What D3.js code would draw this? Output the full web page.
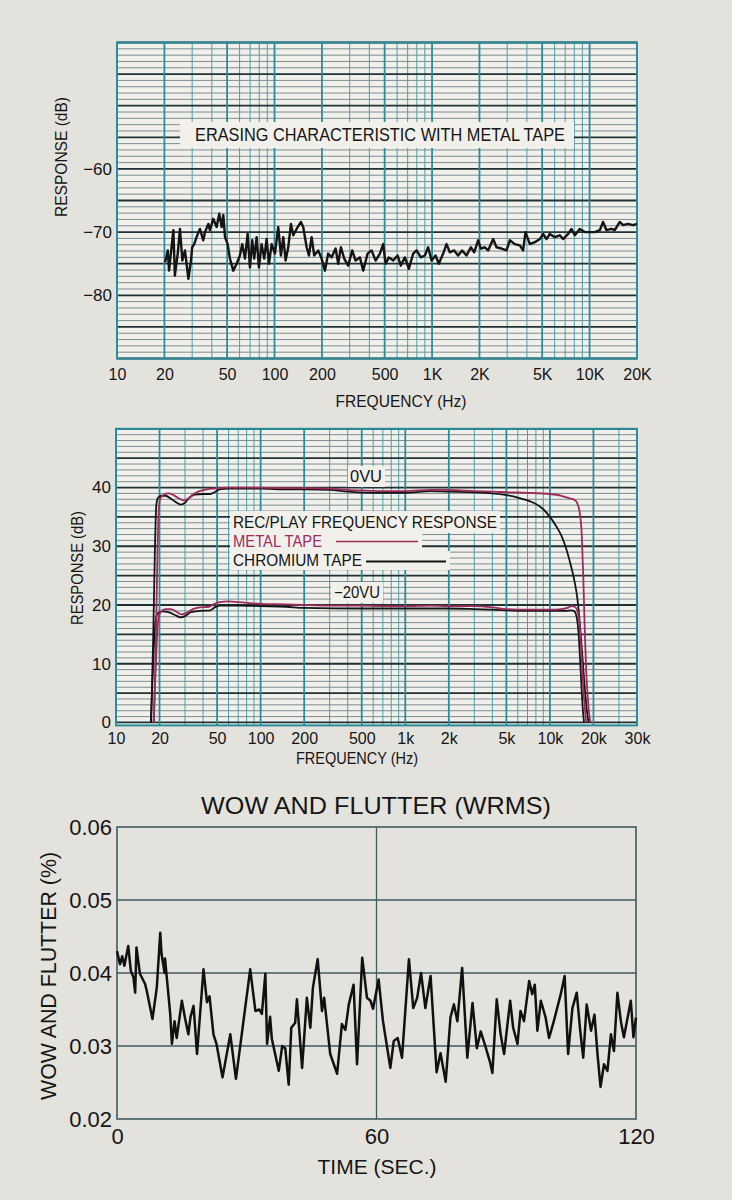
<!DOCTYPE html>
<html><head><meta charset="utf-8">
<script src="https://cdn.jsdelivr.net/npm/d3@7"></script>
<style>body{margin:0;background:#e4e2dc}svg{display:block}</style>
</head><body>
<svg id="c" width="732" height="1200"></svg>
<script>
// ---------- DATA ----------
// Erasing characteristic (metal tape): frequency (Hz) / response (dB)
const eraseFreq = [20.2,21,21.4,22.2,22.8,23.3,24.3,25.1,26,27,28.4,29.5,30,30.9,32,33.6,35.3,36.2,38,38.9,40.8,42.9,44.6,46.2,47.3,48.5,50.4,52.1,54.7,57.5,60.3,62.4,64.9,67.5,69.8,72.2,74.3,77,79.6,82.8,86,89.1,92.2,95.9,100.6,105.6,109.8,113.6,117.6,122.2,127.1,131.5,138.1,147.1,152.1,159.9,165.3,172,178.6,189.4,199,208.9,219.1,230.3,244.2,253.7,263.9,276.9,293.5,311.2,327.1,348.3,365.5,389.7,413.2,438.1,466.5,489.5,507,531.9,566.6,604.1,633.9,672,712.5,758.9,797.6,849.3,900.4,944.7,992.7,1052,1104,1176,1236,1297,1381,1464,1552,1655,1763,1850,1961,2040,2163,2270,2442,2566,2761,2970,3117,3353,3607,3785,3920,4175,4492,4831,5070,5328,5589,6013,6469,6789,7303,7678,8057,8667,9322,10030,10790,11610,12180,12800,13770,14450,15550,16320,17550,18880,20000];
const eraseDb = [-74.8,-72.9,-76.1,-72.4,-69.7,-76.9,-73.4,-69.5,-74.5,-72.9,-77.4,-74.5,-72.4,-71.9,-70.8,-69.5,-71.3,-70.0,-68.7,-69.7,-67.9,-69.2,-67.1,-69.2,-67.3,-70.8,-71.9,-74.2,-76.1,-75.0,-73.7,-71.9,-74.2,-70.3,-75.6,-71.3,-74.2,-70.8,-75.6,-71.9,-74.2,-71.1,-75.0,-71.9,-73.4,-69.2,-73.7,-70.8,-74.5,-72.4,-68.7,-70.5,-69.5,-68.4,-69.2,-72.4,-73.7,-70.8,-73.7,-72.9,-74.2,-76.1,-73.4,-74.0,-72.6,-75.0,-72.4,-74.2,-75.3,-72.9,-74.5,-74.0,-76.1,-73.4,-72.9,-74.5,-73.4,-71.9,-75.0,-74.0,-74.5,-73.7,-75.3,-74.0,-75.8,-73.4,-72.9,-74.0,-73.7,-72.4,-74.5,-73.7,-75.0,-73.4,-71.9,-73.2,-72.9,-73.7,-72.9,-73.7,-72.4,-73.2,-71.3,-72.6,-72.4,-72.9,-71.1,-72.4,-72.6,-72.9,-71.3,-71.9,-72.1,-72.9,-70.0,-71.9,-71.6,-71.1,-70.3,-71.1,-70.3,-70.8,-70.5,-71.1,-70.3,-69.5,-70.5,-69.5,-70.0,-70.0,-70.0,-69.7,-68.4,-69.7,-69.5,-69.7,-68.4,-68.9,-68.7,-68.9,-68.7];
const eraseXTicks = [10,20,50,100,200,500,1000,2000,5000,10000,20000];
const eraseXLabels = ["10","20","50","100","200","500","1K","2K","5K","10K","20K"];
const eraseYTicks = [-60,-70,-80];
const eraseYLabels = ["\u221260","\u221270","\u221280"];

// Rec/play frequency response
const metal0Freq = [18.3,18.9,19.4,19.8,20.3,21.5,23,25,27.5,29.5,31.5,34,37,41,46,52,60,80,100,150,200,300,400,500,700,1000,1500,2000,3000,4000,5000,7000,10000,12000,13500,15000,16000,16600,17000,17400,17800,18300,18900,19200];
const metal0Db = [0,15,30,36.5,38.2,38.8,39,38.7,38.1,37.8,38.1,38.8,39.3,39.6,39.8,39.9,40,40,40,39.9,39.9,39.8,39.6,39.5,39.4,39.4,39.6,39.6,39.4,39.3,39.2,39.1,38.9,38.6,38.2,37.8,36,32,25,16,9,4,0.5,0];
const chrom0Freq = [17.5,18.1,18.6,19,19.5,20.5,22,24,26,28,30,32,35,40,45,48,52,60,100,150,200,300,400,600,1000,1500,2000,3000,4000,5000,6000,7000,8000,9000,10000,11000,12000,12800,13800,14750,15500,16200,16800,17400,18000,18500];
const chrom0Db = [0,15,30,37,38.2,38.6,38.6,38.1,37.5,37.1,37.4,38.2,38.8,38.9,38.9,39.2,39.7,39.8,39.8,39.7,39.7,39.6,39.3,39.1,39.1,39.4,39.3,39.2,39.0,38.7,38.3,37.8,37.2,36.3,35,33.5,31.8,30,27.2,24.2,21,16,11,6,2,0];
const metal20Freq = [18.2,19,19.6,20.3,22,24,26,28.5,31,34,38,44,48,52,60,70,100,150,200,300,500,700,1000,1500,2000,3000,4000,5000,7000,10000,12000,13500,14000,14800,15500,16000,16500,17000,17500,17800];
const metal20Db = [0,12,17.5,18.8,19.3,19.3,18.9,18.4,18.7,19.3,19.6,19.7,20.2,20.5,20.6,20.5,20.2,20.1,20.0,19.9,19.9,19.8,19.8,19.9,19.8,19.8,19.6,19.3,19.2,19.2,19.3,19.6,19.8,19.7,19,17,12,6,2,0];
const chrom20Freq = [17.4,18.2,18.8,19.5,21,23,25.5,28,30,33,38,45,48,52,70,100,150,200,500,1000,2000,3000,5000,7000,10000,13000,14000,14800,15300,15800,16300,16800,17200];
const chrom20Db = [0,12,17.5,18.6,18.9,18.8,18.3,17.9,18.1,18.8,19,19.1,19.6,19.9,19.9,19.8,19.7,19.5,19.4,19.4,19.4,19.3,19.1,19.0,19.0,19.0,19.1,18.9,18,15,9,3,0];
const recXTicks = [10,20,50,100,200,500,1000,2000,5000,10000,20000,40000];
const recXLabels = ["10","20","50","100","200","500","1k","2k","5k","10k","20k","30k"];
const recYTicks = [0,10,20,30,40];

// Wow and flutter: time (s) / WRMS (%)
const wfTime = [0,0.7,1.2,1.7,2.6,3.2,3.8,4.2,4.5,5.3,6.5,6.9,8.2,9.2,10,10.3,11,11.1,12.3,12.7,13.3,13.8,15,15.7,16.5,17.0,17.7,18.5,20,20.8,21.4,22.3,23,24.4,26.2,27.5,30.8,32,32.9,33.5,34.3,34.7,35.4,35.8,37.4,38.2,38.9,39.7,40.3,41.2,41.6,42.8,43.9,44.7,45.3,46.4,47.4,47.9,49.3,50.9,52,52.8,53.6,54.7,55.5,56.7,57.8,58.6,59.2,60.5,61.5,63.2,64,64.9,65.9,67.5,68.5,69.4,70.3,71.3,72.5,73.9,74.8,76,77.1,77.9,78.7,79.8,81,82.2,83.2,84.1,85.3,86.2,86.8,87.8,88.7,89.5,90.9,91.6,92.6,93.3,94.1,95.3,96,96.6,97.2,98,99.1,99.9,101,102.6,103.5,104.3,105.3,106.3,107.1,107.8,108.6,109.6,110.4,111.1,111.8,112.6,113.4,114.2,114.9,115.7,116.5,117.2,118.8,119.4,120];
const wfValue = [0.043,0.0412,0.0423,0.041,0.0437,0.0403,0.0394,0.0373,0.0435,0.0399,0.0385,0.0375,0.0337,0.038,0.0455,0.0426,0.040,0.042,0.0344,0.0303,0.0334,0.0311,0.0362,0.0339,0.0316,0.034,0.0355,0.0289,0.0405,0.036,0.0368,0.0316,0.0303,0.0257,0.0316,0.0255,0.0405,0.0348,0.035,0.0344,0.0399,0.0303,0.034,0.031,0.0266,0.030,0.0297,0.0247,0.0325,0.0332,0.0364,0.027,0.0366,0.0325,0.038,0.0419,0.0348,0.0366,0.0289,0.0262,0.033,0.0322,0.0357,0.0384,0.0275,0.0421,0.0366,0.0362,0.0351,0.0391,0.0334,0.027,0.0307,0.0311,0.0284,0.0419,0.0352,0.0366,0.040,0.0352,0.0396,0.0264,0.029,0.0251,0.0339,0.0357,0.0334,0.0407,0.0284,0.0359,0.0297,0.032,0.0297,0.0279,0.0263,0.0364,0.0316,0.0289,0.0362,0.0325,0.0303,0.0348,0.0334,0.0389,0.0371,0.0384,0.0321,0.0362,0.0339,0.0311,0.0334,0.0371,0.0396,0.0289,0.0352,0.0373,0.0321,0.0284,0.0357,0.0321,0.0343,0.0289,0.0244,0.0275,0.0266,0.0316,0.0293,0.0373,0.0334,0.0312,0.0362,0.0312,0.0339];
const wfXTicks = [0,60,120];
const wfYTicks = [0.02,0.03,0.04,0.05,0.06];

// ---------- STYLE ----------
const FONT = "'Liberation Sans Narrow','Liberation Sans',Arial,sans-serif";
const PAGE = "#e4e2dc", PAPER = "#f1f0eb";
const TEAL = "#2a8d9d", TEAL_MINOR = "#4a9fac", DARK = "#1f3237", GREY = "#6f8186";
const MAGENTA = "#9e2b5e";

const svg = d3.select("#c").attr("font-family", FONT);
svg.append("rect").attr("width",732).attr("height",1200).attr("fill",PAGE);

function logGrid(lo, hi){
  const out=[];
  for(let e=Math.floor(Math.log10(lo)); e<=Math.ceil(Math.log10(hi)); e++){
    for(let k=1;k<=9;k++){
      const v=k*Math.pow(10,e);
      if(v>=lo*0.999 && v<=hi*1.001) out.push({v, major:[1,2,5].includes(k)});
    }
  }
  return out;
}

function txt(g, s, x, y, o={}){
  const t=g.append("text").attr("x",x).attr("y",y).text(s)
    .attr("font-size",o.size||16).attr("text-anchor",o.anchor||"start")
    .attr("fill",o.fill||"#151515");
  if(o.len) t.attr("textLength",o.len).attr("lengthAdjust","spacingAndGlyphs");
  if(o.rot) t.attr("transform",`rotate(-90,${x},${y})`);
  return t;
}
function boxBehind(g, t, pl, pr, pt, pb){
  const b=t.node().getBBox();
  g.insert("rect", () => t.node())
    .attr("x",b.x-pl).attr("y",b.y-pt).attr("width",b.width+pl+pr).attr("height",b.height+pt+pb)
    .attr("fill",PAPER);
}

function graphPaper(g, x, y, id){
  const [x0,x1]=x.range(), [y0,y1]=y.range();
  g.append("rect").attr("x",x0).attr("y",y1).attr("width",x1-x0).attr("height",y0-y1).attr("fill",PAPER);
  const [dlo,dhi]=y.domain();
  const hv=d3.range(Math.ceil(dlo), Math.floor(dhi)+1);
  g.append("g").selectAll("line").data(hv.filter(v=>v%5!==0)).join("line")
    .attr("x1",x0).attr("x2",x1).attr("y1",d=>y(d)).attr("y2",d=>y(d))
    .attr("stroke",GREY).attr("stroke-width",0.9);
  const vg=logGrid(...x.domain());
  g.append("g").selectAll("line").data(vg.filter(d=>!d.major)).join("line")
    .attr("x1",d=>x(d.v)).attr("x2",d=>x(d.v)).attr("y1",y0).attr("y2",y1)
    .attr("stroke",TEAL_MINOR).attr("stroke-width",1);
  g.append("g").selectAll("line").data(hv.filter(v=>v%5===0)).join("line")
    .attr("x1",x0).attr("x2",x1).attr("y1",d=>y(d)).attr("y2",d=>y(d))
    .attr("stroke",DARK).attr("stroke-width",1.8);
  g.append("g").selectAll("line").data(vg.filter(d=>d.major)).join("line")
    .attr("x1",d=>x(d.v)).attr("x2",d=>x(d.v)).attr("y1",y0).attr("y2",y1)
    .attr("stroke",TEAL).attr("stroke-width",1.8);
  g.append("rect").attr("x",x0).attr("y",y1).attr("width",x1-x0).attr("height",y0-y1)
    .attr("fill","none").attr("stroke",TEAL).attr("stroke-width",2);
  g.append("clipPath").attr("id",id).append("rect")
    .attr("x",x0).attr("y",y1).attr("width",x1-x0).attr("height",y0-y1);
}

function styleAxis(sel, size){
  sel.select(".domain").remove();
  sel.selectAll(".tick line").remove();
  sel.selectAll("text").attr("font-size",size).attr("fill","#151515").attr("font-family",FONT);
}

// ---------- CHART 1: Erasing characteristic ----------
{
  const g=svg.append("g");
  const x=d3.scaleLog().domain([10,20000]).range([117,637]);
  const y=d3.scaleLinear().domain([-90,-40]).range([358.5,42.5]);
  graphPaper(g,x,y,"clipE");
  const t=txt(g,"ERASING CHARACTERISTIC WITH METAL TAPE",195,141,{size:18,len:370});
  boxBehind(g,t,15,9,3,3);
  const line=d3.line().x((d,i)=>x(eraseFreq[i])).y(d=>y(d));
  g.append("path").datum(eraseDb).attr("d",line).attr("fill","none")
    .attr("stroke","#141414").attr("stroke-width",2.4).attr("stroke-linejoin","round")
    .attr("clip-path","url(#clipE)");
  g.append("g").attr("transform","translate(0,358.5)")
    .call(d3.axisBottom(x).tickValues(eraseXTicks).tickFormat((d,i)=>eraseXLabels[i]).tickSize(0).tickPadding(10))
    .call(s=>styleAxis(s,16));
  g.append("g").attr("transform","translate(117,0)")
    .call(d3.axisLeft(y).tickValues(eraseYTicks).tickFormat((d,i)=>eraseYLabels[i]).tickSize(0).tickPadding(5))
    .call(s=>styleAxis(s,17));
  txt(g,"FREQUENCY (Hz)",401,407,{size:16,anchor:"middle",len:131});
  txt(g,"RESPONSE (dB)",67,157,{size:16,anchor:"middle",len:120,rot:true});
}

// ---------- CHART 2: Rec/Play frequency response ----------
{
  const g=svg.append("g");
  const x=d3.scaleLog().domain([10,40000]).range([116,637]);
  const y=d3.scaleLinear().domain([-0.5,50]).range([725.4,428.8]);
  graphPaper(g,x,y,"clipR");
  const line=(fs)=>d3.line().x((d,i)=>x(fs[i])).y(d=>y(d)).curve(d3.curveMonotoneX);
  const curves=[[chrom0Freq,chrom0Db,"#151515"],[chrom20Freq,chrom20Db,"#151515"],
                [metal0Freq,metal0Db,MAGENTA],[metal20Freq,metal20Db,MAGENTA]];
  const cg=g.append("g").attr("clip-path","url(#clipR)");
  curves.forEach(([fs,vs,c])=>{
    cg.append("path").datum(vs).attr("d",line(fs)).attr("fill","none")
      .attr("stroke",c).attr("stroke-width",1.8).attr("stroke-linejoin","round");
  });
  const t0=txt(g,"0VU",350,482,{size:16,len:32}); boxBehind(g,t0,2,3,2,2);
  const t1=txt(g,"REC/PLAY FREQUENCY RESPONSE",233,528,{size:17,len:264}); boxBehind(g,t1,3,3,2,1);
  const t2=txt(g,"METAL TAPE",233,547,{size:16,len:89,fill:MAGENTA}); boxBehind(g,t2,3,100,1,1);
  const b2=t2.node().getBBox();
  g.append("line").attr("x1",b2.x+b2.width+14).attr("x2",b2.x+b2.width+96)
    .attr("y1",b2.y+b2.height/2).attr("y2",b2.y+b2.height/2).attr("stroke",MAGENTA).attr("stroke-width",1.6);
  const t3=txt(g,"CHROMIUM TAPE",233,566,{size:16,len:129}); boxBehind(g,t3,3,88,1,1);
  const b3=t3.node().getBBox();
  g.append("line").attr("x1",b3.x+b3.width+4).attr("x2",b3.x+b3.width+84)
    .attr("y1",b3.y+b3.height/2+1).attr("y2",b3.y+b3.height/2+1).attr("stroke","#151515").attr("stroke-width",2);
  const t4=txt(g,"\u221220VU",334,598,{size:16,len:46}); boxBehind(g,t4,3,3,2,2);
  g.append("g").attr("transform","translate(0,725.4)")
    .call(d3.axisBottom(x).tickValues(recXTicks).tickFormat((d,i)=>recXLabels[i]).tickSize(0).tickPadding(7))
    .call(s=>styleAxis(s,16));
  g.append("g").attr("transform","translate(116,0)")
    .call(d3.axisLeft(y).tickValues(recYTicks).tickFormat(d3.format("d")).tickSize(0).tickPadding(5))
    .call(s=>styleAxis(s,17));
  txt(g,"FREQUENCY (Hz)",357,764,{size:16,anchor:"middle",len:122});
  txt(g,"RESPONSE (dB)",83,568,{size:16,anchor:"middle",len:114,rot:true});
}

// ---------- CHART 3: Wow and flutter ----------
{
  const g=svg.append("g");
  const x=d3.scaleLinear().domain([0,120]).range([117,636]);
  const y=d3.scaleLinear().domain([0.02,0.06]).range([1119,827]);
  const GL="#3f5a60";
  g.append("g").selectAll("line").data(wfYTicks.slice(1,-1)).join("line")
    .attr("x1",117).attr("x2",636).attr("y1",d=>y(d)).attr("y2",d=>y(d))
    .attr("stroke",GL).attr("stroke-width",1.5);
  g.append("line").attr("x1",x(60)).attr("x2",x(60)).attr("y1",827).attr("y2",1119)
    .attr("stroke",GL).attr("stroke-width",1.3);
  g.append("rect").attr("x",117).attr("y",827).attr("width",519).attr("height",292)
    .attr("fill","none").attr("stroke",GL).attr("stroke-width",1.6);
  const line=d3.line().x((d,i)=>x(wfTime[i])).y(d=>y(d));
  g.append("path").datum(wfValue).attr("d",line).attr("fill","none")
    .attr("stroke","#111").attr("stroke-width",2.5).attr("stroke-linejoin","round");
  g.append("g").attr("transform","translate(0,1119)")
    .call(d3.axisBottom(x).tickValues(wfXTicks).tickFormat(d3.format("d")).tickSize(0).tickPadding(9))
    .call(s=>styleAxis(s,22));
  g.append("g").attr("transform","translate(117,0)")
    .call(d3.axisLeft(y).tickValues(wfYTicks).tickFormat(d3.format(".2f")).tickSize(0).tickPadding(5))
    .call(s=>styleAxis(s,22));
  txt(g,"WOW AND FLUTTER (WRMS)",376,814,{size:24,anchor:"middle",len:350});
  txt(g,"TIME (SEC.)",377,1174,{size:21,anchor:"middle",len:119});
  txt(g,"WOW AND FLUTTER (%)",56,976,{size:22,anchor:"middle",len:248,rot:true});
}
</script>
</body></html>
